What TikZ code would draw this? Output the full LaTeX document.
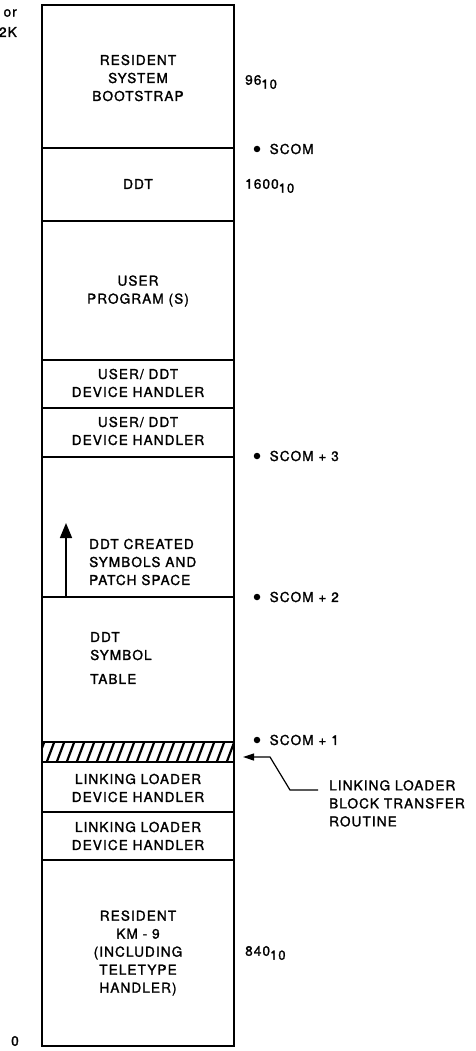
\documentclass[tikz,border=0pt]{standalone}
\usepackage{fontspec}
\setmainfont[LetterSpace=8, FakeBold=1.6]{TeX Gyre Heros}
\usetikzlibrary{arrows.meta, positioning, calc}

% decimal value with subscript base
\newcommand{\decval}[1]{#1\raisebox{-4pt}{\fontsize{13}{13}\selectfont 10}}

\begin{document}
\begin{tikzpicture}[x=1pt, y=-1pt,
    memtext/.style={font=\fontsize{13.6}{18}\selectfont, align=center, inner sep=0pt},
    sidetext/.style={font=\fontsize{13.6}{18}\selectfont, align=left, inner sep=0pt, anchor=west},
    divide/.style={line width=1.8pt},
    markdot/.style={circle, fill=black, inner sep=0pt, minimum size=6.5pt}]
    \useasboundingbox (0,0) rectangle (475,1051);

    % memory column
    \coordinate (TopL) at (42,5);
    \coordinate (BotR) at (234,1046);
    \draw[divide] (42,148) -- (234,148);
    \draw[divide] (42,221) -- (234,221);
    \draw[divide] (42,360) -- (234,360);
    \draw[divide] (42,408) -- (234,408);
    \draw[divide] (42,457) -- (234,457);
    \draw[divide] (42,597) -- (234,597);
    \draw[divide] (42,812) -- (234,812);
    \draw[divide] (42,860) -- (234,860);

    % hatched transfer routine
    \begin{scope}
        \clip (42,742) rectangle (234,762);
        \foreach \i in {0,...,20}
            \draw[line width=2.2pt] (36+\i*10,764) -- ++(9,-24);
    \end{scope}
    \draw[divide] (42,742) rectangle (234,762);
    \draw[line width=2.8pt] (TopL) rectangle (BotR);

    % block labels
    \node[memtext] (boot) at (138,78) {RESIDENT\\SYSTEM\\BOOTSTRAP};
    \node[memtext] (ddt) at (138,184) {DDT};
    \node[memtext] (user) at (138,291) {USER\\PROGRAM (S)};
    \node[memtext] (udh1) at (138,383) {USER/ DDT\\DEVICE HANDLER};
    \node[memtext] (udh2) at (138,431) {USER/ DDT\\DEVICE HANDLER};
    \node[sidetext] (created) at (89,562) {DDT CREATED\\SYMBOLS AND\\PATCH SPACE};
    \node[sidetext] (symtab) at (90,658) {DDT\\SYMBOL\\[6pt]TABLE};
    \node[memtext] (lldh1) at (138,788) {LINKING LOADER\\DEVICE HANDLER};
    \node[memtext] (lldh2) at (138,836) {LINKING LOADER\\DEVICE HANDLER};
    \node[memtext] (km) at (138,953) {RESIDENT\\KM - 9\\(INCLUDING\\TELETYPE\\HANDLER)};

    % growth arrow
    \coordinate (growB) at (66,597);
    \coordinate (growT) at (66,523);
    \draw[line width=1.6pt, -{Triangle[length=15pt, width=12pt]}] (growB) -- (growT);

    % sizes
    \node[sidetext] (sz1) at (245,82) {\decval{96}};
    \node[sidetext] (sz2) at (245,186) {\decval{1600}};
    \node[sidetext] (sz3) at (245,953) {\decval{840}};

    % SCOM pointers
    \node[markdot] (d0) at (257,149) {};
    \node[sidetext, right=9pt of d0] (s0) {SCOM};
    \node[markdot] (d3) at (257,456) {};
    \node[sidetext, right=9pt of d3] (s3) {SCOM + 3};
    \node[markdot] (d2) at (257,597) {};
    \node[sidetext, right=9pt of d2] (s2) {SCOM + 2};
    \node[markdot] (d1) at (257,740) {};
    \node[sidetext, right=9pt of d1] (s1) {SCOM + 1};

    % block transfer routine callout
    \node[sidetext, anchor=north west] (blt) at (329,780) {LINKING LOADER\\BLOCK TRANSFER\\ROUTINE};
    \coordinate (leadS) at (318,790);
    \coordinate (leadM) at (290,790);
    \coordinate (leadN) at (270,757);
    \coordinate (leadT) at (243,757);
    \draw[line width=1.2pt, -{Triangle[length=11pt, width=7pt]}] (leadS) -- (leadM) -- (leadN) -- (leadT);

    % address range
    \node[font=\fontsize{13.6}{18}\selectfont, anchor=east, inner sep=0pt] (sizeA) at (17,13) {or};
    \node[font=\fontsize{13.6}{18}\selectfont, anchor=east, inner sep=0pt] (sizeB) at (17,32) {2K};
    \node[font=\fontsize{13.6}{18}\selectfont, inner sep=0pt] (zero) at (15,1041) {0};
\end{tikzpicture}
\end{document}
